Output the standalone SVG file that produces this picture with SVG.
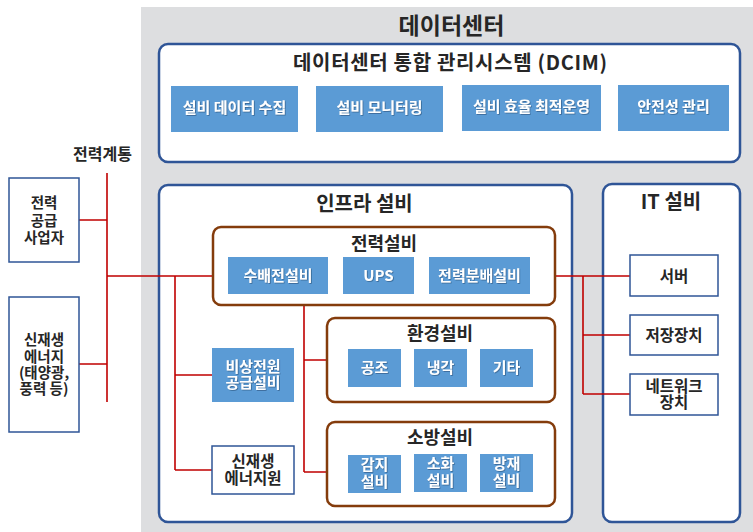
<svg xmlns="http://www.w3.org/2000/svg" width="753" height="532" viewBox="0 0 753 532">
<defs>
<filter id="sh" x="-10%" y="-10%" width="130%" height="140%">
<feDropShadow dx="0.8" dy="0.8" stdDeviation="0.5" flood-color="#1f3f66" flood-opacity="0.6"/>
</filter>
</defs>
<style>
text{font-family:"Malgun Gothic","Noto Sans CJK KR","Noto Sans",sans-serif;font-weight:bold;text-anchor:middle;fill:#262626}
.wbox{fill:#fff;stroke:#2F5597;stroke-width:2.5}
.sbox{fill:#fff;stroke:#2F5597;stroke-width:1.5}
.brown{fill:#fff;stroke:#843C0C;stroke-width:2.5}
.blue{fill:#5B9BD5}
.wt{fill:#fff;font-size:15px;filter:url(#sh)}
.lbl{font-size:14.5px}
.t18{font-size:18px}
.t20{font-size:20px}
.wire{stroke:#C00000;stroke-width:1.6;fill:none}
</style>
<rect x="141" y="7" width="612" height="525" fill="#DDDEE0"/>
<text x="451.5" y="34" style="font-size:23px">데이터센터</text>

<g id="dcim">
<rect class="wbox" x="159" y="44" width="581" height="118" rx="9"/>
<text x="450" y="70" style="font-size:20px" textLength="314" lengthAdjust="spacing">데이터센터 통합 관리시스템 (DCIM)</text>
<g id="dcim1"><rect class="blue" x="171" y="86" width="127" height="46"/><text class="wt" x="234.5" y="113">설비 데이터 수집</text></g>
<g id="dcim2"><rect class="blue" x="316" y="86" width="127" height="46"/><text class="wt" x="379.5" y="113">설비 모니터링</text></g>
<g id="dcim3"><rect class="blue" x="462" y="85" width="139" height="46"/><text class="wt" x="531.5" y="112">설비 효율 최적운영</text></g>
<g id="dcim4"><rect class="blue" x="618" y="85" width="111" height="46"/><text class="wt" x="673.5" y="112">안전성 관리</text></g>
</g>

<g id="infra">
<rect class="wbox" x="159" y="185" width="413" height="337" rx="9"/>
<text class="t20" x="364.5" y="211">인프라 설비</text>
</g>
<g id="it">
<rect class="wbox" x="603" y="184" width="137" height="338" rx="9"/>
<text class="t20" x="671" y="209">IT 설비</text>
</g>

<g id="connectors">
<path class="wire" d="M107 173V402M79 220H107M79 364H107M107 276H228M328 276H343M414 276H429M530 276H630"/>
<path class="wire" d="M175 276V470M175 375H212M175 470H212"/>
<path class="wire" d="M304 294V472M304 360H327M304 472H327"/>
<path class="wire" d="M583 276V394M583 335H630M583 394H630"/>
</g>

<g id="grid-label"><text x="102.5" y="160" style="font-size:16px">전력계통</text></g>
<g id="supplier">
<rect class="sbox" x="9" y="178" width="70" height="84"/>
<text class="lbl" x="44" y="208">전력</text>
<text class="lbl" x="44" y="226">공급</text>
<text class="lbl" x="44" y="243">사업자</text>
</g>
<g id="renewable-ext">
<rect class="sbox" x="9" y="297" width="70" height="135"/>
<text class="lbl" x="44" y="345">신재생</text>
<text class="lbl" x="44" y="362">에너지</text>
<text class="lbl" x="44" y="378">(태양광,</text>
<text class="lbl" x="44" y="394">풍력 등)</text>
</g>

<g id="power">
<rect class="brown" x="213" y="227" width="342" height="78" rx="8"/>
<text class="t18" x="384" y="250">전력설비</text>
<g id="swgr"><rect class="blue" x="228" y="257" width="100" height="37"/><text class="wt" x="278" y="281">수배전설비</text></g>
<g id="ups"><rect class="blue" x="343" y="257" width="71" height="37"/><text class="wt" x="378.5" y="281">UPS</text></g>
<g id="pdu"><rect class="blue" x="429" y="257" width="101" height="37"/><text class="wt" x="479.5" y="281">전력분배설비</text></g>
</g>

<g id="env">
<rect class="brown" x="327" y="318" width="228" height="84" rx="8"/>
<text class="t18" x="440" y="340">환경설비</text>
<g id="hvac"><rect class="blue" x="348" y="349" width="53" height="38"/><text class="wt" x="374.5" y="373">공조</text></g>
<g id="cool"><rect class="blue" x="414" y="349" width="53" height="38"/><text class="wt" x="440.5" y="373">냉각</text></g>
<g id="etc"><rect class="blue" x="480" y="349" width="53" height="38"/><text class="wt" x="506.5" y="373">기타</text></g>
</g>

<g id="fire">
<rect class="brown" x="327" y="422" width="228" height="84" rx="8"/>
<text class="t18" x="440" y="444">소방설비</text>
<g id="detect"><rect class="blue" x="348" y="455" width="53" height="38"/><text class="wt" x="374.5" y="470">감지</text><text class="wt" x="374.5" y="487">설비</text></g>
<g id="extinguish"><rect class="blue" x="414" y="454" width="53" height="38"/><text class="wt" x="440.5" y="469">소화</text><text class="wt" x="440.5" y="486">설비</text></g>
<g id="prevent"><rect class="blue" x="480" y="454" width="53" height="38"/><text class="wt" x="506.5" y="469">방재</text><text class="wt" x="506.5" y="486">설비</text></g>
</g>

<g id="backup"><rect class="blue" x="212" y="348" width="82" height="54"/><text class="wt" x="253" y="372">비상전원</text><text class="wt" x="253" y="388">공급설비</text></g>
<g id="renewable-int"><rect class="sbox" x="212" y="446" width="82" height="48"/><text x="253" y="467" style="font-size:15.5px">신재생</text><text x="253" y="483.5" style="font-size:15.5px">에너지원</text></g>

<g id="server"><rect class="sbox" x="630" y="255" width="88" height="41"/><text x="674" y="282" style="font-size:15.5px">서버</text></g>
<g id="storage"><rect class="sbox" x="630" y="315" width="88" height="40"/><text x="674" y="340.5" style="font-size:15.5px">저장장치</text></g>
<g id="network"><rect class="sbox" x="630" y="374" width="88" height="41"/><text x="674" y="392" style="font-size:15.5px">네트워크</text><text x="674" y="408" style="font-size:15.5px">장치</text></g>
</svg>
